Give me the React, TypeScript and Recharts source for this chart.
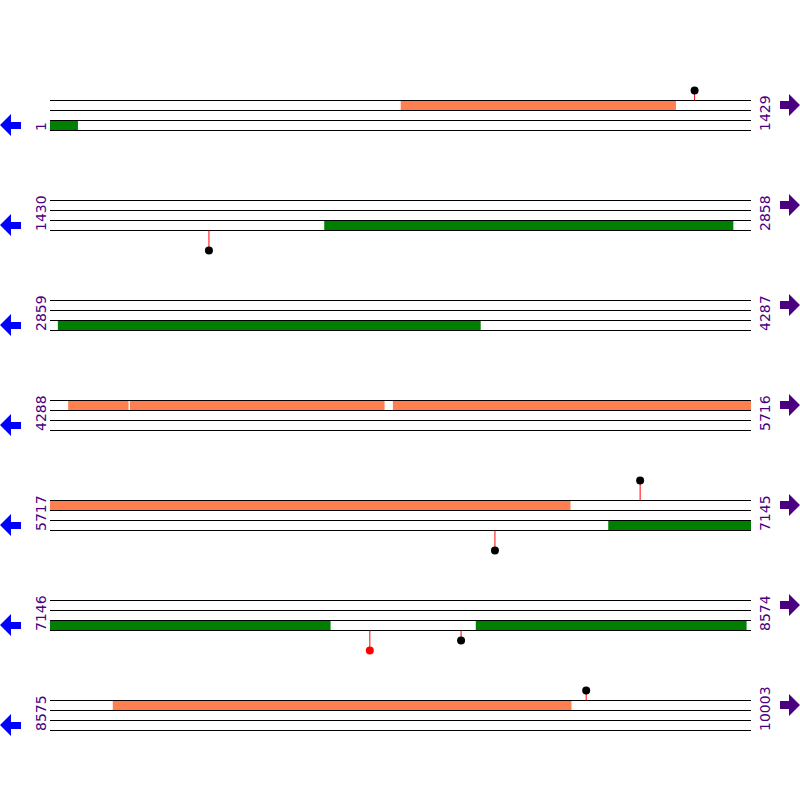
import React from "react";
import {
  ComposedChart,
  XAxis,
  YAxis,
  ReferenceLine,
  ReferenceArea,
  Scatter,
} from "recharts";

// one row per 1429 bp
const rowStarts = [1, 1430, 2859, 4288, 5717, 7146, 8575];
const rowEnds = [1429, 2858, 4287, 5716, 7145, 8574, 10003];

// [start, end] in bp
const forwardFeatures = [
  [716, 1276],
  [4325, 4447],
  [4451, 4969],
  [4987, 6777],
  [8703, 9637],
];
const reverseFeatures = [
  [1, 57],
  [1989, 2822],
  [2875, 3736],
  [6855, 7717],
  [8014, 8565],
];

// sites drawn as lollipops
const sitePositions = [1315, 1754, 6624, 6920, 7798, 7984, 9668];
const siteStrands = ["+", "-", "-", "+", "-", "-", "+"];
const siteHeights = [1, 2, 2, 2, 2, 1, 1];
const siteColors = ["#000", "#000", "#000", "#000", "#ff0000", "#000", "#000"];

const ORANGE = "#ff7f50";
const GREEN = "#008000";
const LABEL = "#4b0082";

const rowOf = (bp: number) => rowStarts.findIndex((s, i) => bp >= s && bp <= rowEnds[i]);

function clip(list: number[][], strand: "+" | "-") {
  const out: { x1: number; x2: number; y1: number; y2: number; fill: string }[] = [];
  rowStarts.forEach((rs, k) => {
    list.forEach(([s, e]) => {
      const a = Math.max(s, rs);
      const b = Math.min(e, rowEnds[k]);
      if (a > b) return;
      const y1 = strand === "+" ? k * 10 : k * 10 + 2;
      out.push({
        x1: a - rs,
        x2: b - rs + 1,
        y1,
        y2: y1 + 1,
        fill: strand === "+" ? ORANGE : GREEN,
      });
    });
  });
  return out;
}

const areas = [...clip(forwardFeatures, "+"), ...clip(reverseFeatures, "-")];

const sites = sitePositions.map((p, i) => {
  const k = rowOf(p);
  const fwd = siteStrands[i] === "+";
  const base = fwd ? k * 10 : k * 10 + 3;
  return {
    x: p - rowStarts[k],
    base,
    y: fwd ? base - siteHeights[i] : base + siteHeights[i],
    color: siteColors[i],
  };
});

const lines: number[] = [];
rowStarts.forEach((_, k) => [0, 1, 2, 3].forEach((i) => lines.push(k * 10 + i)));

function Decorations() {
  return (
    <svg
      width={800}
      height={800}
      style={{ position: "absolute", left: 0, top: 0, pointerEvents: "none" }}
    >
      {rowStarts.map((s, k) => {
        const top = 100 + k * 100;
        const bottom = top + 30;
        return (
          <g key={k}>
            <polygon
              fill="#0000ff"
              points={`0,${bottom - 5} 11,${bottom - 16} 11,${bottom - 8} 21,${bottom - 8} 21,${bottom - 1} 11,${bottom - 1} 11,${bottom + 6}`}
            />
            <polygon
              fill={LABEL}
              points={`800,${top + 5} 789,${top - 6} 789,${top + 1} 780,${top + 1} 780,${top + 9} 789,${top + 9} 789,${top + 16}`}
            />
            <text
              transform={`translate(46,${bottom + 1}) rotate(-90)`}
              fill={LABEL}
              fontSize={14}
              fontFamily="DejaVu Sans"
            >
              {s}
            </text>
            <text
              transform={`translate(770,${bottom + 1}) rotate(-90)`}
              fill={LABEL}
              fontSize={14}
              fontFamily="DejaVu Sans"
            >
              {rowEnds[k]}
            </text>
          </g>
        );
      })}
    </svg>
  );
}

export default function App() {
  return (
    <div style={{ position: "relative", width: 800, height: 800, background: "#fff" }}>
      <style>{`body{margin:0}`}</style>
      <ComposedChart
        width={800}
        height={800}
        data={sites}
        margin={{ top: 0, right: 49, bottom: 0, left: 50 }}
      >
        <XAxis hide type="number" dataKey="x" domain={[0, 1429]} />
        <YAxis hide type="number" domain={[-10.05, 69.95]} reversed />
        {lines.map((y) => (
          <ReferenceLine key={`l${y}`} y={y} stroke="#000" strokeWidth={1} />
        ))}
        {areas.map((a, i) => (
          <ReferenceArea
            key={`a${i}`}
            x1={a.x1}
            x2={a.x2}
            y1={a.y1}
            y2={a.y2}
            fill={a.fill}
            fillOpacity={1}
            stroke="none"
          />
        ))}
        {sites.map((s, i) => (
          <ReferenceLine
            key={`s${i}`}
            segment={[
              { x: s.x, y: s.base },
              { x: s.x, y: s.y },
            ]}
            stroke="#ff0000"
            strokeWidth={1}
          />
        ))}
        <Scatter
          dataKey="y"
          isAnimationActive={false}
          shape={(p: any) => (
            <circle cx={p.cx} cy={p.cy} r={4} fill={p.payload.color} />
          )}
        />
      </ComposedChart>
      <Decorations />
    </div>
  );
}
